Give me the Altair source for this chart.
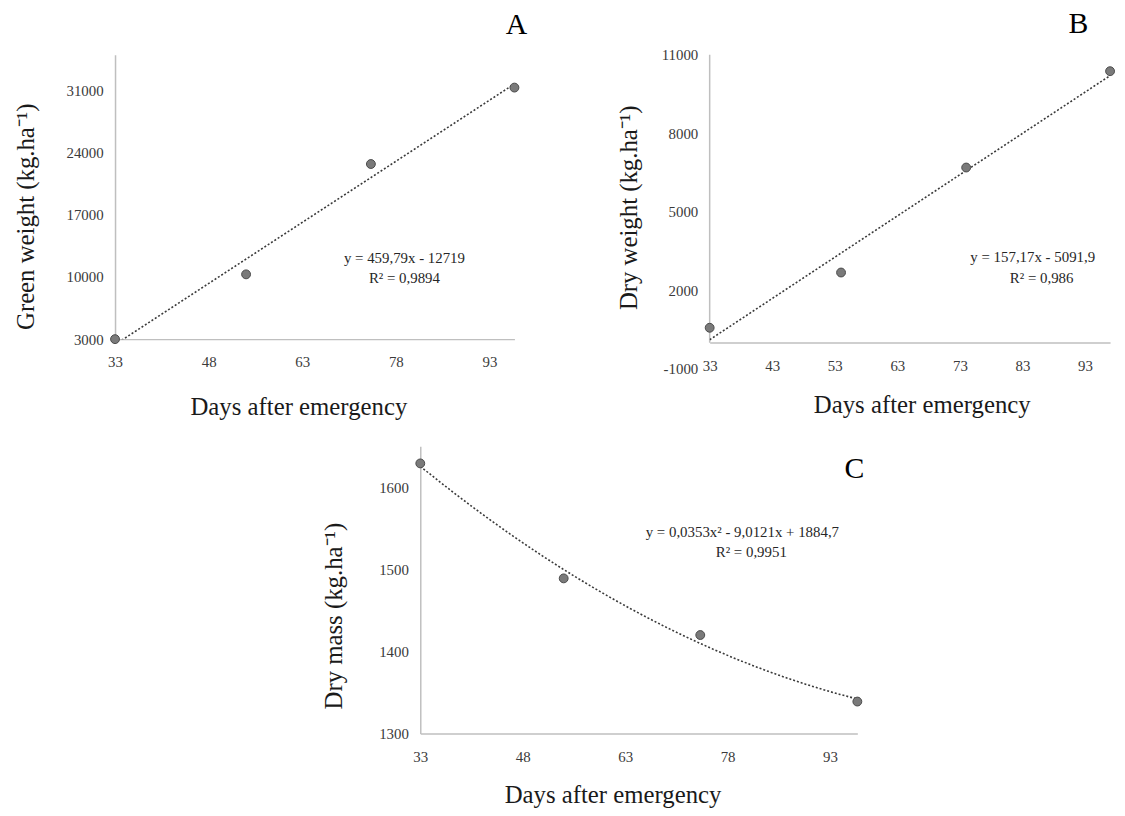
import altair as alt
import pandas as pd

# ---- data ----
days = [33, 54, 74, 97]
green_weight = [3000, 10290, 22700, 31300]
dry_weight = [570, 2680, 6690, 10370]
dry_mass = [1629, 1489, 1420, 1339]

ticks_x_ac = [33, 48, 63, 78, 93]
ticks_x_b = [33, 43, 53, 63, 73, 83, 93]
ticks_y_a = [3000, 10000, 17000, 24000, 31000]
ticks_y_b = [-1000, 2000, 5000, 8000, 11000]
ticks_y_c = [1300, 1400, 1500, 1600]

eq_a = ["y = 459,79x - 12719", "R² = 0,9894"]
eq_b = ["y = 157,17x - 5091,9", "R² = 0,986"]
eq_c = ["y = 0,0353x² - 9,0121x + 1884,7", "R² = 0,9951"]

x_title = "Days after emergency"
y_title_a = "Green weight  (kg.ha⁻¹)"
y_title_b = "Dry weight  (kg.ha⁻¹)"
y_title_c = "Dry mass (kg.ha⁻¹)"

FONT = "Liberation Serif"
PT_FILL = "#7a7a7a"
PT_STROKE = "#4a4a4a"
LINE = "#3a3a3a"


def one(text):
    return pd.DataFrame({"t": [text]})


def text_layer(text, x, y, size, color="#262626", baseline="middle"):
    return alt.Chart(one(text)).mark_text(
        font=FONT, fontSize=size, color=color, align="center", baseline=baseline
    ).encode(x=alt.value(x), y=alt.value(y), text="t:N")


def panel(values, ydomain, yticks, xticks, width, height, ytitle, ytx, yty,
          xtx, xty, eq, eqpos, letter, letterpos, method="linear", order=1,
          xoffset=0, ydomain_line=True, yrule=None, xbaseline="middle"):
    df = pd.DataFrame({"day": days, "value": values})
    xscale = alt.Scale(domain=[33, 97], nice=False, zero=False)
    yscale = alt.Scale(domain=ydomain, nice=False, zero=False)
    xaxis = alt.Axis(values=xticks, format="d", title=x_title, titleX=xtx, titleY=xty,
                     titleAlign="center", titleBaseline=xbaseline, labelPadding=16,
                     offset=xoffset, labelFlush=False)
    yaxis = alt.Axis(values=yticks, labelExpr="'' + datum.value", title=ytitle,
                     titleX=ytx, titleY=yty, labelFlush=False, labelBaseline="middle",
                     titleAngle=-90, titleAlign="center", titleBaseline="middle",
                     labelPadding=12, domain=ydomain_line)
    base = alt.Chart(df)
    if method == "linear":
        reg = base.transform_regression("day", "value", method="linear")
    else:
        reg = base.transform_regression("day", "value", method="poly", order=order)
    trend = reg.mark_line(color=LINE, strokeDash=[2, 2], strokeWidth=1.6, clip=True).encode(
        x=alt.X("day:Q", scale=xscale, axis=xaxis),
        y=alt.Y("value:Q", scale=yscale, axis=yaxis),
    )
    pts = base.mark_circle(size=80, color=PT_FILL, stroke=PT_STROKE, strokeWidth=1,
                           opacity=1).encode(x="day:Q", y="value:Q")
    layers = [trend]
    if yrule is not None:
        rule = alt.Chart(pd.DataFrame({"a": [yrule[0]], "b": [yrule[1]]})).mark_rule(
            color="#bfbfbf", strokeWidth=1.5
        ).encode(x=alt.datum(33), y="a:Q", y2="b:Q")
        layers = [rule, trend]
    layers += [
        pts,
        text_layer(eq[0], eqpos[0], eqpos[1], 15),
        text_layer(eq[1], eqpos[2], eqpos[3], 15),
        text_layer(letter, letterpos[0], letterpos[1], 30, color="#000000", baseline="alphabetic"),
    ]
    return alt.layer(*layers).properties(width=width, height=height)


chart_a = panel(green_weight, [3000, 35000], ticks_y_a, ticks_x_ac, 403, 287,
                y_title_a, -90, 163, 185, 68, eq_a, (292, 205, 292, 225),
                "A", (405, -21))

chart_b = panel(dry_weight, [-1000, 11000], ticks_y_b, ticks_x_b, 404, 317,
                y_title_b, -82, 154, 214, 63, eq_b, (326, 204, 335, 225),
                "B", (372, -22), xoffset=-26.6, ydomain_line=False, yrule=(0, 11000))

chart_c = panel(dry_mass, [1300, 1650], ticks_y_c, ticks_x_ac, 441, 290,
                y_title_c, -87, 171, 194, 70, eq_c, (325, 87, 334, 107),
                "C", (438, 32), method="poly", order=2, xbaseline="alphabetic")

spacer = alt.Chart(pd.DataFrame({"d": [0]})).mark_point(opacity=0).encode(
    x=alt.X("d:Q", axis=None), y=alt.Y("d:Q", axis=None)
).properties(width=209, height=1)

top = alt.hconcat(chart_a, chart_b, spacing=90)
bottom = alt.hconcat(spacer, chart_c, spacing=0)

chart = alt.vconcat(top, bottom, spacing=24).properties(
    padding={"left": 6, "top": -2.5, "right": 0, "bottom": -1},
    background="white",
).configure_view(stroke=None).configure_axis(
    grid=False,
    ticks=False,
    tickSize=0,
    labelFont=FONT,
    titleFont=FONT,
    labelFontSize=15,
    titleFontSize=25,
    titleFontWeight="normal",
    labelColor="#3a3a3a",
    titleColor="#1a1a1a",
    domainColor="#bfbfbf",
    domainWidth=1.5,
)

chart.save("out.html", embed_options={"renderer": "svg", "actions": False})
